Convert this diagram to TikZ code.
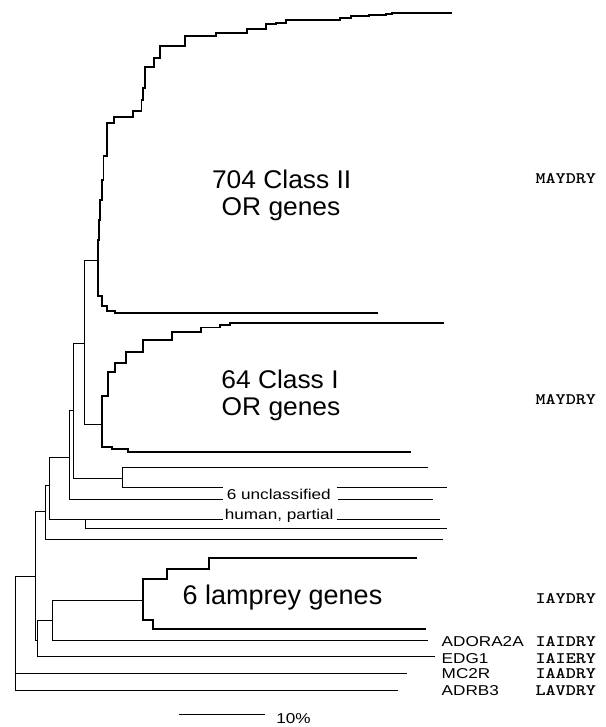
\documentclass[tikz,border=0pt]{standalone}
\usepackage{fontspec}
\setmainfont{Liberation Sans}
\newcommand\bigtxt[1]{\scalebox{1.03}[1]{\fontsize{25.6}{26.7}\selectfont #1}}
\newcommand\lamptxt[1]{\scalebox{1.0}[1]{\fontsize{27}{28}\selectfont #1}}
\newcommand\lbltxt[1]{\scalebox{1.2}[1]{\fontsize{14.3}{15}\selectfont #1}}
\newcommand\motiftxt[1]{\scalebox{1.2}[1]{\ttfamily\bfseries\fontsize{16}{17}\selectfont #1}}
\tikzset{
  br/.style={line width=0.8pt, line cap=butt, line join=miter},
  stair/.style={line width=1.9pt, line cap=butt, line join=miter},
  txt/.style={inner sep=0pt, outer sep=0pt},
}
\begin{document}
\begin{tikzpicture}[x=1pt,y=-1pt]
\useasboundingbox (0,0) rectangle (605,727);

% ---------- Class II staircase ----------
\draw[stair] (451.7,12.7) -- (391.9,12.7) -- (391.9,13.8) -- (386.1,13.8) -- (386.1,15)
  -- (368.7,15) -- (368.7,16.3) -- (351.4,16.3) -- (351.4,17.6) -- (339.8,17.6) -- (339.8,20)
  -- (285.7,20) -- (285.7,22.7) -- (276.1,22.7) -- (276.1,24) -- (266.4,24) -- (266.4,29.3)
  -- (247.1,29.3) -- (247.1,33.3) -- (216.2,33.3) -- (216.2,36) -- (185.3,36) -- (185.3,45.7)
  -- (160.2,45.7) -- (160.2,58.3) -- (153.7,58.3) -- (153.7,66.7) -- (144.8,66.7) -- (144.8,88)
  -- (143.2,88) -- (143.2,100) -- (141.5,100) -- (141.5,110.7) -- (133.2,110.7) -- (133.2,117.3)
  -- (113.9,117.3) -- (113.9,123.3) -- (107.3,123.3) -- (107.3,156) -- (103.5,156) -- (103.5,180)
  -- (102,180) -- (102,200) -- (100.2,200) -- (100.2,220) -- (98.8,220) -- (98.8,240)
  -- (97.7,240) -- (97.7,295.7) -- (101.7,295.7) -- (101.7,306) -- (106.7,306) -- (106.7,311)
  -- (115,311) -- (115,313.3) -- (378.4,313.3);

% ---------- Class I staircase ----------
\draw[stair] (444,323.3) -- (229.7,323.3) -- (229.7,325) -- (220,325) -- (220,327.5)
  -- (200.8,327.5) -- (200.8,331.7) -- (171.8,331.7) -- (171.8,340.3) -- (142.9,340.3)
  -- (142.9,351.7) -- (126,351.7) -- (126,362.7) -- (115,362.7) -- (115,371.7) -- (108.3,371.7)
  -- (108.3,396) -- (101.7,396) -- (101.7,446.7) -- (111.7,446.7) -- (111.7,449.3)
  -- (128.3,449.3) -- (128.3,452) -- (411,452);

% ---------- lamprey staircase ----------
\draw[stair] (417.3,558.3) -- (209.3,558.3) -- (209.3,569.3) -- (167.3,569.3) -- (167.3,579.3)
  -- (142.7,579.3) -- (142.7,620) -- (152.7,620) -- (152.7,629.3) -- (426,629.3);

% ---------- thin branches ----------
\draw[br] (97.7,260) -- (84.3,260) -- (84.3,424) -- (101.7,424);
\draw[br] (84.3,343.3) -- (73.3,343.3) -- (73.3,478) -- (122.7,478);
\draw[br] (428.3,467.3) -- (122.7,467.3) -- (122.7,487.3) -- (223,487.3);
\draw[br] (336.7,487.3) -- (446.7,487.3);
\draw[br] (73.3,410.7) -- (69,410.7) -- (69,499.3) -- (223,499.3);
\draw[br] (338.3,499.3) -- (433.3,499.3);
\draw[br] (69,457.3) -- (49,457.3) -- (49,519.3) -- (223,519.3);
\draw[br] (336.7,519.3) -- (440,519.3);
\draw[br] (85.7,519.3) -- (85.7,528.3) -- (446.7,528.3);
\draw[br] (49,485) -- (45.7,485) -- (45.7,539.3) -- (443.3,539.3);
\draw[br] (45.7,511.7) -- (35.7,511.7) -- (35.7,640) -- (37.3,640);
\draw[br] (52.3,620) -- (37.3,620) -- (37.3,656.7) -- (435,656.7);
\draw[br] (142.7,600) -- (52.3,600) -- (52.3,640.7) -- (428.3,640.7);
\draw[br] (35.7,576.7) -- (15.7,576.7) -- (15.7,690.7) -- (397.7,690.7);
\draw[br] (15.7,673.3) -- (406.6,673.3);

% ---------- scale bar ----------
\draw[br] (179,714.3) -- (264.6,714.3);
\node[txt, anchor=base west] (pct) at (276.3,723.5) {\lbltxt{10\%}};

% ---------- labels ----------
\node[txt, anchor=base] (c2a) at (281.7,188.3) {\bigtxt{704 Class II}};
\node[txt, anchor=base] (c2b) at (281,215) {\bigtxt{OR genes}};
\node[txt, anchor=base] (c1a) at (280,388.3) {\bigtxt{64 Class I}};
\node[txt, anchor=base] (c1b) at (281,415) {\bigtxt{OR genes}};
\node[txt, anchor=base west] (lamp) at (182.7,604) {\lamptxt{6 lamprey genes}};
\node[txt, anchor=base] (uncl) at (278.8,499.8) {\lbltxt{6 unclassified}};
\node[txt, anchor=base] (hum) at (279.2,519.3) {\lbltxt{human, partial}};

\node[txt, anchor=base west] (ado) at (441.7,646.7) {\lbltxt{ADORA2A}};
\node[txt, anchor=base west] (edg) at (441.7,663.3) {\lbltxt{EDG1}};
\node[txt, anchor=base west] (mc2) at (441.7,678.8) {\lbltxt{MC2R}};
\node[txt, anchor=base west] (adr) at (441.7,695.3) {\lbltxt{ADRB3}};

\node[txt, anchor=base east] (m1) at (596,183.3) {\motiftxt{MAYDRY}};
\node[txt, anchor=base east] (m2) at (596,404) {\motiftxt{MAYDRY}};
\node[txt, anchor=base east] (m3) at (596,603.3) {\motiftxt{IAYDRY}};
\node[txt, anchor=base east] (m4) at (596,646.7) {\motiftxt{IAIDRY}};
\node[txt, anchor=base east] (m5) at (596,663.3) {\motiftxt{IAIERY}};
\node[txt, anchor=base east] (m6) at (596,678.8) {\motiftxt{IAADRY}};
\node[txt, anchor=base east] (m7) at (596,695.3) {\motiftxt{LAVDRY}};
\end{tikzpicture}
\end{document}
